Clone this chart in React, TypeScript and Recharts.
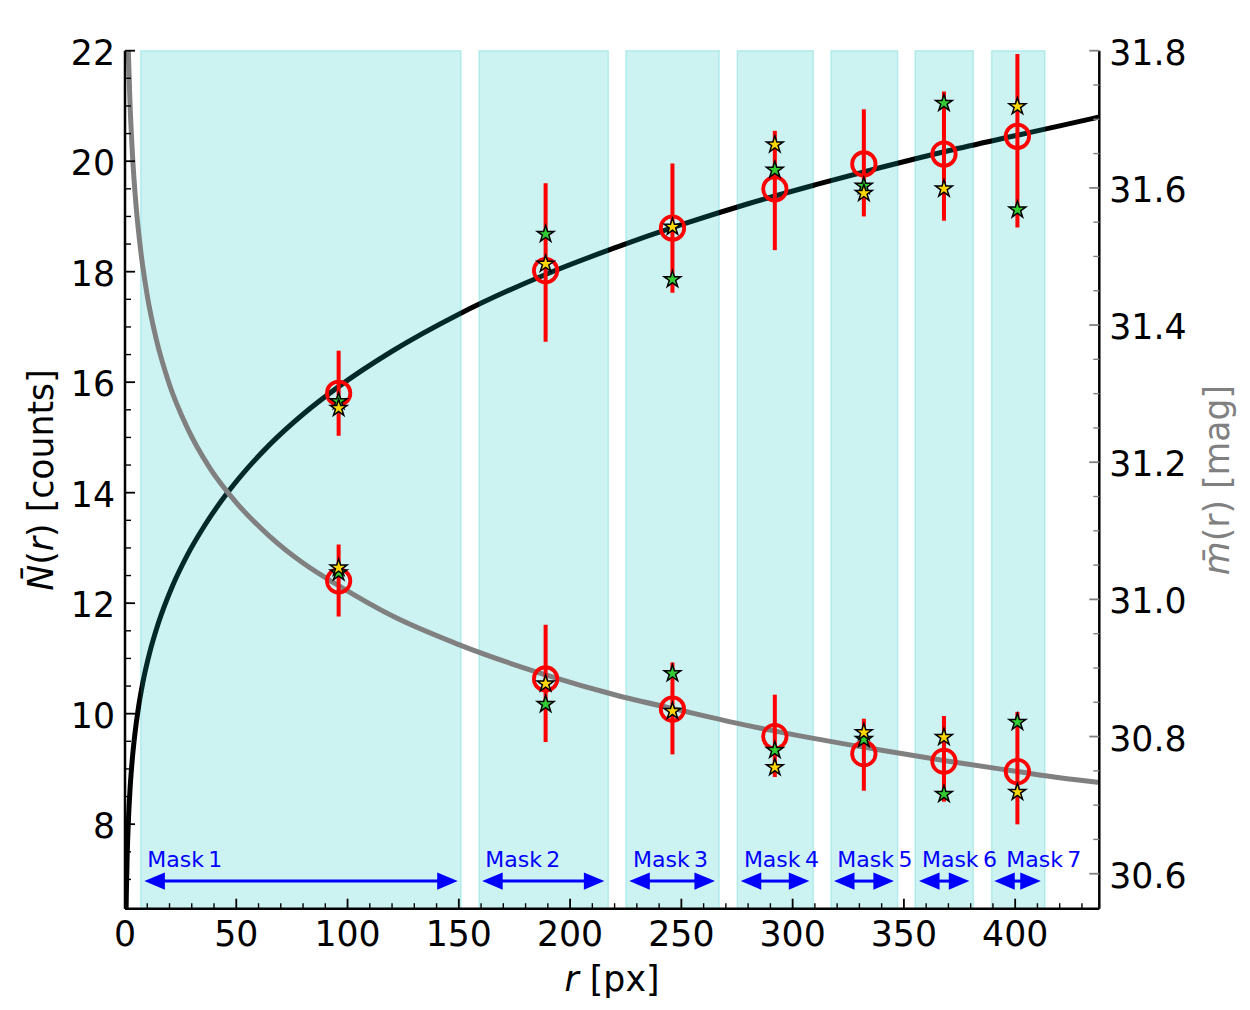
import React from 'react';
import {
  ComposedChart,
  XAxis,
  YAxis,
  Line,
  Scatter,
  ErrorBar,
  ReferenceArea,
  ReferenceLine,
} from 'recharts';

// ---------------- data ----------------
const radii = [96, 189, 246, 292, 332, 368, 401];

// N(r) counts (left axis)
const nMean = [15.8, 18.02, 18.79, 19.5, 19.95, 20.13, 20.45];
const nLow = [15.03, 16.73, 17.62, 18.39, 19.0, 18.92, 18.8];
const nHigh = [16.57, 19.6, 19.96, 20.55, 20.94, 21.26, 21.94];
const nGreen = [15.65, 18.68, 17.86, 19.84, 19.55, 21.05, 19.12];
const nYellow = [15.53, 18.14, 18.81, 20.3, 19.42, 19.5, 20.99];

// m(r) magnitudes (right axis)
const mMean = [31.027, 30.884, 30.84, 30.8, 30.775, 30.764, 30.749];
const mLow = [30.975, 30.792, 30.774, 30.741, 30.721, 30.705, 30.672];
const mHigh = [31.08, 30.963, 30.908, 30.861, 30.826, 30.83, 30.836];
const mGreen = [31.039, 30.847, 30.892, 30.78, 30.796, 30.716, 30.821];
const mYellow = [31.046, 30.877, 30.837, 30.755, 30.806, 30.799, 30.719];

// model curves
const nCurveR = [0.5, 0.6, 1.0, 1.5, 2.2, 3.2, 4.5, 6, 8, 11, 15, 21, 28, 36, 45.5, 55, 65, 80, 96, 120, 150, 189, 220, 250, 280, 310, 340, 370, 401, 420, 437.8];
const nCurveV = [6.47, 6.73, 7.45, 8.03, 8.59, 9.14, 9.65, 10.1, 10.56, 11.09, 11.64, 12.28, 12.87, 13.42, 13.97, 14.44, 14.87, 15.42, 15.92, 16.56, 17.23, 17.95, 18.43, 18.85, 19.23, 19.57, 19.89, 20.19, 20.47, 20.64, 20.8];
const mCurveR = [1.5, 2.2, 3.4, 5, 7, 10, 14, 20, 28, 38, 50, 65, 80, 96, 120, 150, 189, 220, 250, 280, 310, 340, 370, 401, 420, 437.8];
const mCurveV = [31.8, 31.728, 31.646, 31.573, 31.51, 31.443, 31.38, 31.313, 31.25, 31.192, 31.141, 31.092, 31.053, 31.02, 30.976, 30.934, 30.89, 30.861, 30.838, 30.816, 30.797, 30.78, 30.764, 30.749, 30.74, 30.733];

// mask bands and arrows
const bandStart = [7.05, 159.1, 225.1, 275.1, 317.2, 355.0, 389.4];
const bandEnd = [151.0, 217.2, 267.0, 309.3, 347.2, 381.2, 413.4];
const arrowStart = [8.7, 160.5, 226.6, 276.7, 318.6, 356.8, 390.6];
const arrowEnd = [149.5, 215.4, 265.1, 307.5, 345.5, 379.4, 411.5];
const maskLabels = ['Mask\u20091', 'Mask\u20092', 'Mask\u20093', 'Mask\u20094', 'Mask\u20095', 'Mask\u20096', 'Mask\u20097'];
const maskLabelR = [10.0, 161.9, 228.3, 278.1, 320.1, 358.1, 396.0];
const ARROW_LEVEL = 6.97;
const LABEL_LEVEL = 7.22;

// axes
const xDomain = [0, 437.8];
const leftDomain = [6.47, 22];
const rightDomain = [30.549, 31.8];
const xTicks = [0, 10, 20, 30, 40, 50, 60, 70, 80, 90, 100, 110, 120, 130, 140, 150, 160, 170, 180, 190, 200, 210, 220, 230, 240, 250, 260, 270, 280, 290, 300, 310, 320, 330, 340, 350, 360, 370, 380, 390, 400, 410, 420, 430];
const leftTicks = [7, 7.5, 8, 8.5, 9, 9.5, 10, 10.5, 11, 11.5, 12, 12.5, 13, 13.5, 14, 14.5, 15, 15.5, 16, 16.5, 17, 17.5, 18, 18.5, 19, 19.5, 20, 20.5, 21, 21.5, 22];
const rightTicks = [30.6, 30.65, 30.7, 30.75, 30.8, 30.85, 30.9, 30.95, 31.0, 31.05, 31.1, 31.15, 31.2, 31.25, 31.3, 31.35, 31.4, 31.45, 31.5, 31.55, 31.6, 31.65, 31.7, 31.75, 31.8];

// ---------------- tables ----------------
const nCurve = nCurveR.map((r, i) => ({ r, v: nCurveV[i] }));
const mCurve = mCurveR.map((r, i) => ({ r, v: mCurveV[i] }));
const nPoints = radii.map((r, i) => ({ r, v: nMean[i], err: [nMean[i] - nLow[i], nHigh[i] - nMean[i]] }));
const mPoints = radii.map((r, i) => ({ r, v: mMean[i], err: [mMean[i] - mLow[i], mHigh[i] - mMean[i]] }));
const nGreenPts = radii.map((r, i) => ({ r, v: nGreen[i] }));
const nYellowPts = radii.map((r, i) => ({ r, v: nYellow[i] }));
const mGreenPts = radii.map((r, i) => ({ r, v: mGreen[i] }));
const mYellowPts = radii.map((r, i) => ({ r, v: mYellow[i] }));
const labelPts = maskLabels.map((label, i) => ({ r: maskLabelR[i], v: LABEL_LEVEL, label }));

// ---------------- styling ----------------
const FONT = 'DejaVu Sans';
const FS = 34.7;
const TEAL = '#022828';

// gradient for the black curve: tinted where it passes under the bands
const gR0 = nCurveR[0];
const gR1 = nCurveR[nCurveR.length - 1];
const frac = (r: number) => Math.max(0, Math.min(1, (r - gR0) / (gR1 - gR0)));
const gradStops: { o: number; c: string }[] = [{ o: 0, c: '#000' }];
bandStart.forEach((s, i) => {
  gradStops.push({ o: frac(s), c: '#000' });
  gradStops.push({ o: frac(s), c: TEAL });
  gradStops.push({ o: frac(bandEnd[i]), c: TEAL });
  gradStops.push({ o: frac(bandEnd[i]), c: '#000' });
});
gradStops.push({ o: 1, c: '#000' });

function starPath(cx: number, cy: number, R: number, ri: number) {
  let d = '';
  for (let i = 0; i < 10; i++) {
    const rad = i % 2 === 0 ? R : ri;
    const a = -Math.PI / 2 + (i * Math.PI) / 5;
    d += (i === 0 ? 'M' : 'L') + (cx + rad * Math.cos(a)).toFixed(2) + ',' + (cy + rad * Math.sin(a)).toFixed(2);
  }
  return d + 'Z';
}

const makeStar = (fill: string) => (p: any) => (
  <path d={starPath(p.cx, p.cy, 8.8, 8.8 * 0.381966)} fill={fill} stroke="#000" strokeWidth={1.5} strokeLinejoin="miter" />
);
const greenStar = makeStar('#33cc33');
const yellowStar = makeStar('#ffd700');
const redCircle = (p: any) => <circle cx={p.cx} cy={p.cy} r={11.7} fill="none" stroke="#ff0000" strokeWidth={3.8} />;
const maskText = (p: any) => (
  <text x={p.cx} y={p.cy} fontSize={22} fontFamily={FONT} fill="#0000ff" textAnchor="start">
    {p.payload.label}
  </text>
);

const ArrowShape = (p: any) => {
  const { x1, y1, x2 } = p;
  const h = 20.5;
  const w = 8.7;
  return (
    <g>
      <line x1={x1 + h - 2} y1={y1} x2={x2 - h + 2} y2={y1} stroke="#0000ff" strokeWidth={3} />
      <polygon points={`${x1},${y1} ${x1 + h},${y1 - w} ${x1 + h},${y1 + w}`} fill="#0000ff" />
      <polygon points={`${x2},${y1} ${x2 - h},${y1 - w} ${x2 - h},${y1 + w}`} fill="#0000ff" />
    </g>
  );
};

function BottomTick(p: any) {
  const { x, y, payload } = p;
  const v = payload.value as number;
  const major = v % 50 === 0;
  return (
    <g>
      <line x1={x} x2={x} y1={y} y2={y - (major ? 10 : 5.5)} stroke="#000" strokeWidth={major ? 1.8 : 1.4} />
      {major && (
        <text x={x} y={y + 37.3} textAnchor="middle" fontSize={FS} fontFamily={FONT} fill="#000">
          {v}
        </text>
      )}
    </g>
  );
}

function TopTick(p: any) {
  const { x, y, payload } = p;
  const v = payload.value as number;
  const major = v % 50 === 0;
  return <line x1={x} x2={x} y1={y} y2={y + (major ? 10 : 5.5)} stroke="#000" strokeWidth={major ? 1.8 : 1.4} />;
}

function LeftTick(p: any) {
  const { x, y, payload } = p;
  const v = payload.value as number;
  const major = v % 2 === 0;
  return (
    <g>
      <line x1={x} x2={x + (major ? 10 : 6)} y1={y} y2={y} stroke="#000" strokeWidth={major ? 1.8 : 1.4} />
      {major && (
        <text x={x - 10} y={y + 14} textAnchor="end" fontSize={FS} fontFamily={FONT} fill="#000">
          {v}
        </text>
      )}
    </g>
  );
}

function RightTick(p: any) {
  const { x, y, payload } = p;
  const v = payload.value as number;
  const major = Math.round(v * 100) % 20 === 0;
  return (
    <g>
      <line x1={x} x2={x - (major ? 10 : 6)} y1={y} y2={y} stroke="#808080" strokeWidth={major ? 1.8 : 1.4} />
      {major && (
        <text x={x + 10} y={y + 14} textAnchor="start" fontSize={FS} fontFamily={FONT} fill="#000">
          {v.toFixed(1)}
        </text>
      )}
    </g>
  );
}

const XTitle = () => (
  <text x={612} y={991} textAnchor="middle" fontSize={FS} fontFamily={FONT} fill="#000">
    <tspan fontStyle="italic">r</tspan>
    {' [px]'}
  </text>
);

const LeftTitle = () => (
  <text
    x={41}
    y={480}
    transform="rotate(-90 41 480)"
    textAnchor="middle"
    dominantBaseline="central"
    fontSize={FS}
    fontFamily={FONT}
    fill="#000"
  >
    <tspan fontStyle="italic">{'N\u0304'}</tspan>
    {'('}
    <tspan fontStyle="italic">r</tspan>
    {') [counts]'}
  </text>
);

const RightTitle = () => (
  <text
    x={1217}
    y={480}
    transform="rotate(-90 1217 480)"
    textAnchor="middle"
    dominantBaseline="central"
    fontSize={FS}
    fontFamily={FONT}
    fill="#808080"
  >
    <tspan fontStyle="italic">{'m\u0304'}</tspan>
    {'(r) [mag]'}
  </text>
);

export default function App() {
  return (
    <div style={{ position: 'absolute', left: 0, top: 0, width: 1250, height: 1010, background: '#fff' }}>
      <svg width={0} height={0} style={{ position: 'absolute' }}>
        <defs>
          <linearGradient id="nGrad" x1="0" y1="0" x2="1" y2="0">
            {gradStops.map((s, i) => (
              <stop key={i} offset={s.o} stopColor={s.c} />
            ))}
          </linearGradient>
        </defs>
      </svg>
      <ComposedChart
        width={1250}
        height={1010}
        margin={{ top: 50.7, right: 50.7, bottom: 41.3, left: 25 }}
      >
        <XAxis
          xAxisId="b"
          dataKey="r"
          type="number"
          domain={xDomain}
          allowDataOverflow
          ticks={xTicks}
          interval={0}
          tickLine={false}
          tickSize={0}
          tickMargin={0}
          tick={(p: any) => <BottomTick {...p} />}
          axisLine={{ stroke: '#000', strokeWidth: 2.5 }}
          height={60}
          label={<XTitle />}
        />
        <XAxis
          xAxisId="t"
          orientation="top"
          dataKey="r"
          type="number"
          domain={xDomain}
          allowDataOverflow
          ticks={xTicks}
          interval={0}
          tickLine={false}
          tickSize={0}
          tickMargin={0}
          tick={(p: any) => <TopTick {...p} />}
          axisLine={{ stroke: '#000', strokeWidth: 2.5 }}
          height={0}
        />
        <YAxis
          yAxisId="left"
          orientation="left"
          type="number"
          domain={leftDomain}
          allowDataOverflow
          ticks={leftTicks}
          interval={0}
          tickLine={false}
          tickSize={0}
          tickMargin={0}
          tick={(p: any) => <LeftTick {...p} />}
          axisLine={{ stroke: '#000', strokeWidth: 2.5 }}
          width={100}
          label={<LeftTitle />}
        />
        <YAxis
          yAxisId="right"
          orientation="right"
          type="number"
          domain={rightDomain}
          allowDataOverflow
          ticks={rightTicks}
          interval={0}
          tickLine={false}
          tickSize={0}
          tickMargin={0}
          tick={(p: any) => <RightTick {...p} />}
          axisLine={{ stroke: '#000', strokeWidth: 2.5 }}
          width={100}
          label={<RightTitle />}
        />

        {bandStart.map((s, i) => (
          <ReferenceArea
            key={'band' + i}
            xAxisId="b"
            yAxisId="left"
            x1={s}
            x2={bandEnd[i]}
            fill="#00bfbf"
            fillOpacity={0.2}
            stroke="#00bfbf"
            strokeOpacity={0.2}
            strokeWidth={1.5}
          />
        ))}

        <Line
          xAxisId="b"
          yAxisId="left"
          data={nCurve}
          dataKey="v"
          type="monotone"
          dot={false}
          stroke="url(#nGrad)"
          strokeWidth={5}
          isAnimationActive={false}
        />
        <Line
          xAxisId="b"
          yAxisId="right"
          data={mCurve}
          dataKey="v"
          type="monotone"
          dot={false}
          stroke="#808080"
          strokeWidth={5}
          isAnimationActive={false}
        />

        {arrowStart.map((s, i) => (
          <ReferenceLine
            key={'arrow' + i}
            xAxisId="b"
            yAxisId="left"
            segment={[
              { x: s, y: ARROW_LEVEL },
              { x: arrowEnd[i], y: ARROW_LEVEL },
            ]}
            stroke="#0000ff"
            shape={(p: any) => <ArrowShape {...p} />}
          />
        ))}

        <Scatter xAxisId="b" yAxisId="left" data={nPoints} dataKey="v" shape={redCircle} isAnimationActive={false}>
          <ErrorBar dataKey="err" direction="y" width={0} stroke="#ff0000" strokeWidth={4} />
        </Scatter>
        <Scatter xAxisId="b" yAxisId="right" data={mPoints} dataKey="v" shape={redCircle} isAnimationActive={false}>
          <ErrorBar dataKey="err" direction="y" width={0} stroke="#ff0000" strokeWidth={4} />
        </Scatter>
        <Scatter xAxisId="b" yAxisId="left" data={nGreenPts} dataKey="v" shape={greenStar} isAnimationActive={false} />
        <Scatter xAxisId="b" yAxisId="right" data={mGreenPts} dataKey="v" shape={greenStar} isAnimationActive={false} />
        <Scatter xAxisId="b" yAxisId="left" data={nYellowPts} dataKey="v" shape={yellowStar} isAnimationActive={false} />
        <Scatter xAxisId="b" yAxisId="right" data={mYellowPts} dataKey="v" shape={yellowStar} isAnimationActive={false} />
        <Scatter xAxisId="b" yAxisId="left" data={labelPts} dataKey="v" shape={maskText} isAnimationActive={false} />
      </ComposedChart>
    </div>
  );
}
